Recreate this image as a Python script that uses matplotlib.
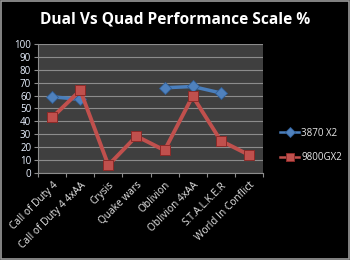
import matplotlib
matplotlib.use("Agg")
import matplotlib.pyplot as plt
import numpy as np
from matplotlib.patches import Rectangle

categories = ["Call of Duty 4", "Call of Duty 4 4xAA", "Crysis", "Quake wars",
              "Oblivion", "Oblivion 4xAA", "S.T.A.L.K.E.R", "World In Conflict"]
s3870 = [59, 57, np.nan, np.nan, 66, 67, 62, np.nan]
s9800 = [43, 64, 6, 28.5, 17.5, 59.5, 25, 14]
yticks = list(range(0, 101, 10))

plt.rcParams['font.family'] = ['Open Sans', 'DejaVu Sans']

fig = plt.figure(figsize=(3.5, 2.6), dpi=100, facecolor='black')
ax = fig.add_axes([0.109, 0.335, 0.642, 0.496])
ax.set_facecolor('#3f3f3f')
x = np.arange(len(categories))

l1, = ax.plot(x, s3870, color='#4a7ebb', lw=2.5, marker='D', ms=6,
              mfc='#4f81bd', mec='#2f5f9a', mew=0.6, label='3870 X2', zorder=3)
l2, = ax.plot(x, s9800, color='#c0504d', lw=2.8, marker='s', ms=7,
              mfc='#c0504d', mec='#8c2a28', mew=0.7, label='9800GX2', zorder=3)

ax.set_xlim(-0.5, len(categories) - 0.5)
ax.set_ylim(0, 100)
ax.set_yticks(yticks)
ax.yaxis.grid(True, color='#8c8c8c', lw=0.8)
ax.set_axisbelow(True)
ax.tick_params(axis='y', colors='#8c8c8c', labelcolor='#e8f0ff', labelsize=7, length=3, width=0.8, pad=2)
ax.set_yticklabels([str(v) for v in yticks])

ax.set_xticks(x)
ax.set_xticklabels(categories, rotation=45, ha='right', rotation_mode='anchor',
                   fontsize=7.3, color='#e8e8e8')
ax.tick_params(axis='x', which='major', length=0, pad=5)
ax.set_xticks(np.arange(-0.5, len(categories)), minor=True)
ax.tick_params(axis='x', which='minor', length=3, color='#8c8c8c', width=0.8)

for side in ['top', 'right']:
    ax.spines[side].set_visible(False)
for side in ['left', 'bottom']:
    ax.spines[side].set_color('#8c8c8c')
    ax.spines[side].set_linewidth(0.8)

fig.text(0.5, 0.925, "Dual Vs Quad Performance Scale %", ha='center', va='center',
         color='white', fontsize=11.2, fontweight='bold')

leg = fig.legend(handles=[l1, l2], loc='center left', bbox_to_anchor=(0.775, 0.44),
                 frameon=False, fontsize=7, labelcolor='#e8e8e8',
                 handlelength=2.0, handletextpad=0.2, labelspacing=1.4,
                 markerscale=0.8)
for h in leg.legend_handles:
    h.set_linewidth(1.8)

fig.patches.append(Rectangle((0.002, 0.003), 0.995, 0.993, transform=fig.transFigure,
                             fill=False, edgecolor='#9a9a9a', lw=1.2))

fig.savefig("out.png", dpi=100, facecolor='black')
